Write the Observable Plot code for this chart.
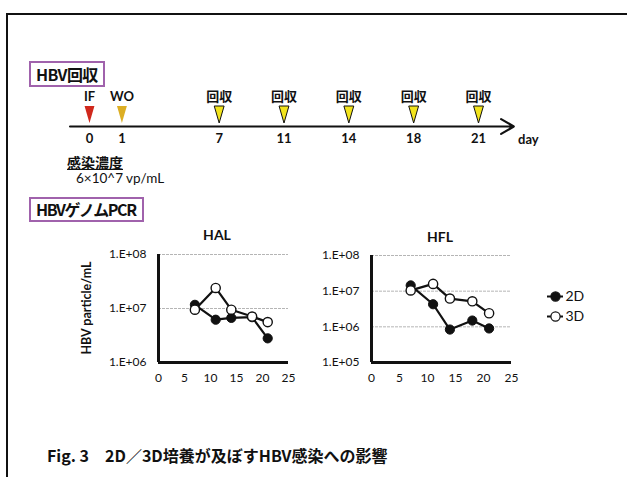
<!DOCTYPE html>
<html><head><meta charset="utf-8">
<script src="https://cdn.jsdelivr.net/npm/d3@7"></script>
<script src="https://cdn.jsdelivr.net/npm/@observablehq/plot@0.6"></script>
<style>
body{margin:0;background:#fff;}
#page{position:relative;width:627px;height:477px;overflow:hidden;background:#fff;font-family:"Noto Sans CJK JP",sans-serif;color:#111;}
#frame{position:absolute;left:6px;top:13px;width:640px;height:480px;border-left:2px solid #111;border-top:2px solid #111;}
.box{position:absolute;border:2px solid #a062ac;font-weight:bold;font-size:16px;line-height:22px;padding:0 5px;white-space:nowrap;}
.t{position:absolute;white-space:nowrap;}
.abs{position:absolute;left:0;}
svg{overflow:visible;}
</style></head>
<body><div id="page">
<div id="frame"></div>
<div class="box" style="left:29px;top:61px;letter-spacing:-0.6px;padding:0 5px 0 5px;">HBV回収</div>
<div class="t" style="left:67px;top:152px;font-size:14px;font-weight:bold;text-decoration:underline;line-height:20px;">感染濃度</div>
<div class="t" style="left:76px;top:170px;font-size:13.5px;font-family:Lato,sans-serif;line-height:16px;">6×10^7 vp/mL</div>
<div class="box" style="left:29px;top:197px;line-height:21px;letter-spacing:-1.4px;padding:0 6px 0 5px;">HBVゲノムPCR</div>
<div class="t" style="left:217px;top:234px;transform:translate(-50%,-50%);font-family:Lato,sans-serif;font-weight:bold;font-size:14px;">HAL</div>
<div class="t" style="left:440px;top:236px;transform:translate(-50%,-50%);font-family:Lato,sans-serif;font-weight:bold;font-size:14px;">HFL</div>
<div id="ylabel" class="t" style="left:86px;top:308px;transform:translate(-50%,-50%) rotate(-90deg);font-family:Lato,sans-serif;font-weight:bold;font-size:12.5px;"></div>
<div class="t" style="left:47px;top:445px;font-size:16px;font-weight:bold;line-height:20px;">Fig. 3　2D／3D培養が及ぼすHBV感染への影響</div>
<div id="timeline" class="abs" style="top:85px;"></div>
<div id="hal" class="abs" style="top:240px;"></div>
<div id="hfl" class="abs" style="top:240px;"></div>
<div id="legend" class="abs" style="left:540px;top:286px;"></div>
</div>
<script>
// ---- timeline data ----
const timelineDays = [0, 1, 7, 11, 14, 18, 21];
const timelineLabels = ["IF", "WO", "回収", "回収", "回収", "回収", "回収"];
const timelineFill = ["#d0281c", "#dcae24", "#f2e41c", "#f2e41c", "#f2e41c", "#f2e41c", "#f2e41c"];
const timelineOutline = ["none", "none", "#111", "#111", "#111", "#111", "#111"];
const timelineGaps = [0, 0, 2, 1, 1, 1, 1]; // empty slots before each day (axis not to scale)
const timelineUnit = "day";

// ---- PCR data ----
const sampleDays = [7, 11, 14, 18, 21];
const hal2D = [1.17e7, 6.2e6, 6.7e6, 6.9e6, 2.8e6];
const hal3D = [9.5e6, 2.4e7, 9.5e6, 7.1e6, 5.6e6];
const hfl2D = [1.45e7, 4.3e6, 8.4e5, 1.5e6, 9.0e5];
const hfl3D = [1.05e7, 1.6e7, 6.2e6, 5.2e6, 2.4e6];
const seriesNames = ["2D", "3D"];
const seriesFill = ["#111", "#fff"];
const yTicksHAL = [1e6, 1e7, 1e8];
const yTicksHFL = [1e5, 1e6, 1e7, 1e8];
const xTicks = [0, 5, 10, 15, 20, 25];
const yAxisLabel = "HBV particle/mL";

const latin = "Lato, 'Noto Sans CJK JP', sans-serif";
document.getElementById("ylabel").textContent = yAxisLabel;

// timeline
let slot = 0;
const events = timelineDays.map((day, i) => {
  slot += timelineGaps[i] + (i ? 1 : 0);
  return {day, slot, label: timelineLabels[i], fill: timelineFill[i], outline: timelineOutline[i]};
});
const lastSlot = events[events.length - 1].slot;
const tallTriangle = {
  draw(ctx, size) {
    const r = Math.sqrt(size / Math.PI);
    ctx.moveTo(-0.58 * r, -r);
    ctx.lineTo(0.58 * r, -r);
    ctx.lineTo(0, r);
    ctx.closePath();
  }
};
const zero = () => 0;
const tl = Plot.plot({
  width: 627, height: 82, marginTop: 0, marginBottom: 0, marginLeft: 89, marginRight: 149,
  x: {domain: [0, lastSlot], axis: null},
  y: {domain: [-1, 1], axis: null},
  color: {type: "identity"},
  style: {background: "transparent", overflow: "visible"},
  marks: [
    Plot.arrow([{a: -0.6, b: lastSlot + 1.09}], {x1: "a", x2: "b", y1: zero, y2: zero, stroke: "#111", strokeWidth: 2.2, headLength: 10}),
    Plot.dot(events, {x: "slot", y: zero, dy: -12, r: 8.5, symbol: tallTriangle, fill: "fill", stroke: "outline", strokeWidth: 1}),
    Plot.text(events, {x: "slot", y: zero, dy: -30, text: "label", fontFamily: latin, fontWeight: "bold", fontSize: 13, fill: "#111"}),
    Plot.text(events, {x: "slot", y: zero, dy: 12, text: d => String(d.day), fontFamily: latin, fontWeight: "bold", fontSize: 13, fill: "#111"}),
    Plot.text([timelineUnit], {x: () => lastSlot + 1.22, y: zero, dy: 13, text: d => d, textAnchor: "start", fontFamily: latin, fontWeight: "bold", fontSize: 13, fill: "#111"})
  ]
});
document.getElementById("timeline").append(tl);

const fmt = d => "1.E+" + String(Math.round(Math.log10(d))).padStart(2, "0");
const rows = (vals, series) => sampleDays.map((day, i) => ({day, value: vals[i], series}));

function panel({v2D, v3D, yTicks, width, marginLeft, marginRight, marginTop, marginBottom}) {
  const r2 = rows(v2D, "2D"), r3 = rows(v3D, "3D");
  return Plot.plot({
    width, height: 150, marginLeft, marginRight, marginTop, marginBottom,
    x: {domain: [0, 25], label: null},
    y: {type: "log", domain: [yTicks[0], yTicks[yTicks.length - 1]], label: null},
    style: {background: "transparent", overflow: "visible", color: "#111"},
    marks: [
      Plot.ruleY(yTicks.slice(1), {stroke: "#b5b5b5", strokeWidth: 1, strokeDasharray: "3,1"}),
      Plot.axisY({ticks: yTicks, tickSize: 0, tickPadding: 12, tickFormat: fmt, fontSize: 12, fontFamily: latin, label: null}),
      Plot.axisX({ticks: xTicks, tickSize: 0, tickPadding: 11, fontSize: 12, fontFamily: latin, label: null}),
      Plot.ruleX([0], {stroke: "#111", strokeWidth: 3}),
      Plot.ruleY([yTicks[0]], {stroke: "#111", strokeWidth: 3}),
      Plot.line(r2, {x: "day", y: "value", stroke: "#111", strokeWidth: 2.2}),
      Plot.dot(r2, {x: "day", y: "value", r: 4.6, fill: "#111", stroke: "#111", strokeWidth: 1}),
      Plot.line(r3, {x: "day", y: "value", stroke: "#111", strokeWidth: 2.2}),
      Plot.dot(r3, {x: "day", y: "value", r: 4.6, fill: "#fff", stroke: "#111", strokeWidth: 1.4})
    ]
  });
}
document.getElementById("hal").append(panel({v2D: hal2D, v3D: hal3D, yTicks: yTicksHAL, width: 300, marginLeft: 158, marginRight: 12, marginTop: 14, marginBottom: 28}));
document.getElementById("hfl").append(panel({v2D: hfl2D, v3D: hfl3D, yTicks: yTicksHFL, width: 627, marginLeft: 371, marginRight: 116, marginTop: 15, marginBottom: 28}));

// legend
const leg = seriesNames.map((name, i) => ({name, fill: seriesFill[i]}));
const lg = Plot.plot({
  width: 60, height: 40, marginLeft: 7, marginRight: 37, marginTop: 10, marginBottom: 10,
  x: {domain: [0, 1], axis: null},
  y: {type: "point", domain: seriesNames, padding: 0, axis: null},
  color: {type: "identity"},
  style: {background: "transparent", overflow: "visible"},
  marks: [
    Plot.ruleY(leg, {y: "name", x1: () => 0, x2: () => 1, stroke: "#111", strokeWidth: 2}),
    Plot.dot(leg, {x: () => 0.5, y: "name", r: 4.6, fill: "fill", stroke: "#111", strokeWidth: 1.2}),
    Plot.text(leg, {x: () => 1, y: "name", text: "name", textAnchor: "start", dx: 2, fontFamily: latin, fontSize: 14, fill: "#111"})
  ]
});
document.getElementById("legend").append(lg);
</script>
</body></html>
